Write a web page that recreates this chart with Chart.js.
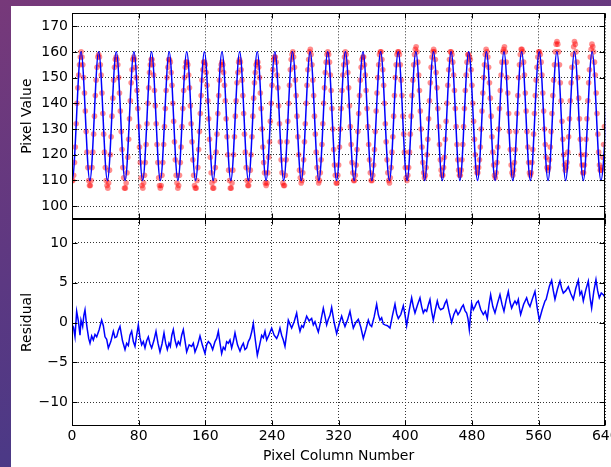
<!DOCTYPE html>
<html lang="en">
<head>
<meta charset="UTF-8">
<title>Pixel Value fit and residual</title>
<script src="https://cdn.jsdelivr.net/npm/chart.js@4"></script>
<style>
  html, body { margin: 0; padding: 0; width: 611px; height: 467px; overflow: hidden; }
  body { position: relative; background: linear-gradient(165deg, #77397a 0%, #5c3882 45%, #3c3a8a 100%); }
  .sheet { position: absolute; left: 11px; top: 6px; width: 600px; height: 461px; background: #fff; }
  canvas { position: absolute; left: 0; }
  #topChart { top: 0; width: 640px; height: 219px; }
  #bottomChart { top: 219px; width: 640px; height: 248px; }
</style>
</head>
<body>
<div class="sheet"></div>
<canvas id="topChart" width="640" height="219"></canvas>
<canvas id="bottomChart" width="640" height="248"></canvas>
<script>
const pixelValues = [
  110,110,112,117,123,132,140,146,151,155,158,160,158,155,150,144,137,129,121,115,110,108,
  108,110,115,121,128,135,143,149,154,158,159,158,155,151,144,136,128,121,115,110,108,
  107,109,114,120,127,135,142,149,154,157,158,157,155,150,144,137,129,122,115,111,107,
  107,109,113,119,126,134,141,148,153,157,158,157,154,150,145,138,131,123,117,111,108,
  107,109,112,117,124,132,140,146,152,155,157,157,155,151,145,139,132,124,117,111,108,
  107,108,112,117,124,131,138,145,150,154,157,157,156,152,147,140,133,125,118,112,109,107,
  108,112,117,123,131,138,145,150,154,156,156,155,151,146,139,132,125,118,112,108,107,
  107,110,115,122,129,136,143,149,153,156,156,155,152,147,141,134,126,119,113,109,107,
  107,110,115,121,128,136,143,149,153,155,156,155,152,147,141,134,127,120,114,110,107,
  107,109,114,120,127,135,141,148,152,156,157,156,153,149,143,136,128,121,115,110,108,
  108,110,114,120,127,135,142,148,152,155,156,156,154,150,144,138,130,123,117,113,109,
  108,109,113,119,125,133,140,147,153,157,158,158,156,151,146,139,132,125,118,113,109,108,
  108,112,118,125,133,140,147,153,157,159,160,158,154,149,143,135,127,120,114,111,109,
  110,113,118,125,132,140,147,153,157,160,161,159,155,149,143,135,128,121,115,111,109,
  110,113,118,124,132,140,146,152,156,159,160,159,156,151,145,138,130,122,116,112,109,
  109,112,116,123,130,138,145,151,155,158,160,159,156,152,146,139,131,124,117,113,110,
  110,112,116,122,129,136,143,149,154,157,158,158,155,151,145,138,131,124,118,113,110,
  110,112,116,122,129,137,144,150,155,159,160,160,157,153,147,140,132,125,118,113,110,
  109,111,115,121,127,135,143,150,155,159,160,160,159,155,149,143,135,128,121,115,111,110,
  112,115,121,128,135,143,149,155,159,161,162,160,156,151,145,137,130,123,117,113,111,
  112,115,120,126,134,141,148,154,158,160,161,160,157,152,146,138,131,124,118,114,112,
  112,115,119,126,133,140,147,153,157,160,160,159,156,151,145,138,131,124,118,114,112,
  112,114,118,124,131,138,145,151,156,159,159,158,157,153,147,140,133,126,120,115,113,
  113,115,118,123,130,137,144,150,155,159,161,160,158,154,148,142,135,127,121,116,112,
  111,113,117,123,130,138,145,151,156,160,161,162,160,156,150,144,136,129,122,116,113,
  112,114,117,122,129,136,143,150,155,159,161,161,160,156,151,144,137,129,123,117,113,112,
  113,117,122,128,136,143,149,154,158,160,160,159,156,151,144,137,130,124,119,115,114,
  115,118,123,129,136,143,149,155,160,163,164,163,160,155,148,141,133,126,120,116,114,
  115,117,121,127,134,141,148,154,159,162,164,163,160,156,150,142,134,126,120,116,113,
  113,116,120,126,134,141,148,153,158,161,163,162,160,156,151,144,136,128,121,116,114,
  114,115,119,124,131
];

// fitted curve: its turning points (peaks 160, troughs 110)
const fitX = [
  -10.4, 0.2, 10.8, 21.4, 32.0, 42.5, 53.1, 63.7, 74.3, 84.8, 95.4, 106.0, 116.6, 127.1,
  137.7, 148.3, 158.9, 169.4, 180.0, 190.6, 201.2, 211.7, 222.3, 232.9, 243.5, 254.0,
  264.6, 275.2, 285.8, 296.3, 306.9, 317.5, 328.1, 338.6, 349.2, 359.8, 370.4, 380.9,
  391.5, 402.1, 412.7, 423.2, 433.8, 444.4, 455.0, 465.5, 476.1, 486.7, 497.3, 507.8,
  518.4, 529.0, 539.6, 550.1, 560.7, 571.3, 581.9, 592.4, 603.0, 613.6, 624.2, 634.7, 645.3
];
const fitY = [
  160,110,160,110,160,110,160,110,160,110,160,110,160,110,160,110,
  160,110,160,110,160,110,160,110,160,110,160,110,160,110,160,110,
  160,110,160,110,160,110,160,110,160,110,160,110,160,110,160,110,
  160,110,160,110,160,110,160,110,160,110,160,110,160,110,160
];

// residual (data - fit), wiggles
const residX = [
  0, 1.8, 3.6, 5.6, 7.6, 9.6, 10.8, 12.8, 14.2, 15.6, 17.0, 18.4, 20.0, 21.6, 23.6, 25.6,
  27.6, 29.6, 32.6, 35.6, 37.6, 39.6, 41.6, 43.6, 46.6, 49.6, 51.6, 53.6, 55.6, 57.6, 60.6,
  63.6, 65.6, 67.6, 69.6, 71.6, 73.6, 75.6, 77.6, 79.6, 81.6, 83.6, 85.6, 87.6, 89.6, 91.6,
  93.6, 95.6, 98.2, 100.8, 103.2, 105.6, 108.0, 110.4, 112.4, 114.4, 116.4, 118.0, 119.8,
  121.6, 123.6, 125.6, 127.6, 129.6, 131.6, 133.6, 135.6, 137.6, 140.6, 143.6, 145.6, 147.6,
  150.6, 153.6, 156.6, 159.6, 161.6, 163.6, 166.2, 168.8, 171.6, 173.6, 175.6, 177.6, 179.6,
  181.6, 183.6, 185.6, 187.6, 189.6, 191.6, 193.6, 195.6, 198.6, 201.6, 203.6, 205.6, 207.6,
  209.6, 211.6, 213.6, 215.6, 217.6, 220.0, 222.4, 225.0, 227.6, 229.6, 231.6, 233.6, 236.6,
  239.6, 242.6, 245.6, 247.6, 249.6, 251.6, 253.6, 255.6, 257.6, 259.6, 261.6, 263.6, 266.6,
  269.6, 271.6, 273.6, 275.6, 277.6, 279.6, 281.6, 284.6, 287.6, 289.6, 291.6, 293.6, 295.6,
  298.6, 301.6, 303.6, 305.6, 307.6, 309.6, 311.6, 314.6, 317.6, 320.6, 323.6, 325.6, 327.6,
  330.6, 333.6, 335.6, 337.6, 340.6, 343.6, 346.6, 349.6, 352.6, 355.6, 357.6, 359.6, 362.6,
  365.6, 367.6, 369.6, 371.6, 373.6, 375.6, 378.6, 381.6, 384.6, 387.6, 389.6, 391.6, 394.6,
  397.6, 399.6, 401.6, 404.6, 407.6, 409.6, 411.6, 414.6, 417.6, 419.6, 421.6, 423.6, 425.6,
  427.6, 429.6, 431.6, 433.6, 436.0, 438.4, 440.4, 442.4, 445.6, 447.6, 449.6, 452.6, 455.6,
  458.2, 460.8, 463.2, 465.6, 467.6, 469.6, 471.6, 473.6, 475.2, 476.8, 478.2, 479.6, 481.6,
  483.6, 485.6, 487.6, 490.6, 493.6, 496.0, 498.4, 500.4, 502.4, 505.0, 507.6, 510.6, 513.6,
  516.0, 518.4, 521.0, 523.6, 525.6, 527.6, 529.6, 531.6, 533.6, 535.6, 537.0, 538.4, 542.0,
  545.6, 547.6, 549.6, 552.6, 555.6, 558.2, 560.8, 564.2, 567.6, 569.0, 570.4, 573.0, 575.6,
  577.6, 579.6, 582.6, 585.6, 587.6, 589.6, 592.6, 595.6, 598.6, 601.6, 604.6, 607.6, 609.6,
  611.6, 613.6, 616.6, 619.6, 621.6, 623.6, 626.2, 628.8, 630.8, 632.8, 635.2, 637.6, 640
];
const residY = [
  -0.3, -0.6, -1.8, 1.4, 0.2, -1.6, 0.3, -0.5, 0.9, 1.6, 0.2, -0.9, -2.0, -2.6, -1.7, -2.2,
  -1.5, -1.8, -0.9, 0.3, -0.4, -1.8, -2.1, -3.2, -2.4, -1.1, -1.9, -1.8, -1.0, -0.5, -2.3,
  -3.4, -2.6, -2.9, -1.6, -1.1, -2.4, -3.0, -1.6, -0.3, -1.9, -2.8, -2.4, -3.2, -2.3, -1.8,
  -2.7, -3.2, -2.3, -1.1, -2.6, -3.7, -2.7, -1.3, -2.6, -3.4, -2.6, -3.0, -1.6,
  -0.9, -2.2, -3.0, -2.4, -2.8, -1.6, -0.9, -2.3, -3.7, -2.8, -3.0, -2.6, -3.7,
  -2.9, -1.7, -2.9, -3.9, -2.8, -2.4, -2.7, -3.4, -2.4, -2.0, -1.1, -2.6, -3.9,
  -3.1, -3.4, -2.4, -2.6, -2.2, -3.2, -2.4, -1.3, -2.8, -3.6, -3.0, -2.6, -3.4,
  -3.2, -2.4, -2.0, -1.2, -0.1, -2.2, -4.1, -2.9, -1.6, -1.9, -1.1, -2.2, -1.5,
  -0.7, -1.6, -2.0, -1.5, -0.7, -1.6, -2.2, -3.0, -1.4, 0.3, -0.2, -0.7, 0.1,
  1.2, -0.2, -1.1, -0.4, -0.6, 0.1, 0.8, 0.2, 0.5, -0.3, 0.1, -0.6, -1.2,
  0.2, 1.8, 0.8, -0.3, 0.4, 0.9, 1.9, 0.0, -1.4, -0.2, 0.8, 0.1, -0.5,
  0.3, 1.4, 0.3, -0.7, 0.0, 0.4, -0.6, -2.0, -0.9, 0.3, -0.3, -0.5, 0.7,
  2.3, 1.0, 0.3, 0.6, -0.2, -0.3, -0.4, -0.7, 0.9, 2.3, 1.1, 0.5, 1.0,
  2.1, 1.0, -0.4, 1.5, 3.1, 2.0, 1.2, 2.2, 3.1, 2.0, 1.2, 1.6, 1.4,
  2.2, 2.9, 1.4, 0.3, 1.6, 2.7, 1.9, 1.6, 1.8, 2.4, 2.8, 1.3, 0.0,
  1.0, 1.6, 1.0, 1.4, 1.9, 2.2, 1.5, 1.2, 0.5, -0.9, 0.8, 2.4, 1.6,
  2.0, 2.5, 2.7, 1.6, 1.0, 1.4, 0.5, 2.2, 3.5, 2.0, 1.2, 2.4, 3.5,
  2.3, 1.4, 2.8, 3.9, 2.6, 1.8, 2.3, 2.7, 2.3, 2.9, 1.8, 1.0, 2.3,
  3.1, 2.4, 2.0, 3.0, 3.9, 1.9, 0.3, 1.6, 2.7, 2.9, 3.5, 4.6, 5.3,
  4.0, 2.9, 4.2, 5.2, 4.3, 3.7, 4.0, 4.5, 3.6, 2.9, 4.3, 5.3, 3.5,
  3.9, 2.7, 4.1, 5.2, 3.2, 1.8, 3.9, 5.4, 4.0, 3.1, 3.7, 3.5, 3.1
];

const columnTicks = [0, 80, 160, 240, 320, 400, 480, 560, 640];
const valueTicks = [100, 110, 120, 130, 140, 150, 160, 170];
const residTicks = [-10, -5, 0, 5, 10];

Chart.defaults.font.family = "'DejaVu Sans', sans-serif";
Chart.defaults.font.size = 14;
Chart.defaults.color = '#000';

const BLUE = '#0000ff';
const DOT = 'rgba(255, 0, 0, 0.45)';

// matplotlib-like frame with inward ticks on all four sides
const framePlugin = {
  id: 'frame',
  afterDatasetsDraw(chart) {
    const { ctx, chartArea: a, scales } = chart;
    const l = Math.round(a.left) + 0.5, r = Math.round(a.right) - 0.5;
    const t = Math.round(a.top) + 0.5, b = Math.round(a.bottom) - 0.5;
    ctx.save();
    ctx.strokeStyle = '#000';
    ctx.lineWidth = 1;
    ctx.setLineDash([]);
    ctx.beginPath();
    scales.x.ticks.forEach(tk => {
      const px = Math.round(scales.x.getPixelForValue(tk.value)) + 0.5;
      ctx.moveTo(px, t); ctx.lineTo(px, t + 5);
      ctx.moveTo(px, b); ctx.lineTo(px, b - 5);
    });
    scales.y.ticks.forEach(tk => {
      const py = Math.round(scales.y.getPixelForValue(tk.value)) + 0.5;
      ctx.moveTo(l, py); ctx.lineTo(l + 5, py);
      ctx.moveTo(r, py); ctx.lineTo(r - 5, py);
    });
    ctx.stroke();
    ctx.strokeRect(l, t, r - l, b - t);
    ctx.restore();
  }
};

const useTicks = list => s => { s.ticks = list.map(v => ({ value: v })); };
const grid = { color: '#333', lineWidth: 1, drawTicks: false };
const border = { display: false, dash: [1, 2] };

function xAxis(showLabels, height) {
  return {
    type: 'linear', min: 0, max: 640,
    afterBuildTicks: useTicks(columnTicks),
    grid, border,
    ticks: { display: showLabels, padding: 2, maxRotation: 0, autoSkip: false },
    title: { display: showLabels, text: 'Pixel Column Number', padding: { top: 0, bottom: 2 } },
    afterFit: s => { s.height = height; s.paddingLeft = 0; s.paddingRight = 0; }
  };
}

function yAxis(min, max, list, label, fmt) {
  return {
    min, max,
    afterBuildTicks: useTicks(list),
    grid, border,
    ticks: { padding: 4, autoSkip: false, callback: fmt },
    title: { display: true, text: label, padding: { top: 8, bottom: 0 } },
    afterFit: s => { s.width = 61; s.paddingTop = 0; s.paddingBottom = 0; }
  };
}

const common = {
  responsive: false,
  animation: false,
  events: [],
  plugins: { legend: { display: false }, tooltip: { enabled: false } }
};

new Chart(document.getElementById('topChart'), {
  type: 'line',
  data: {
    datasets: [
      {
        data: fitX.map((x, i) => ({ x, y: fitY[i] })),
        borderColor: BLUE, borderWidth: 1.5,
        cubicInterpolationMode: 'monotone',
        pointRadius: 0
      },
      {
        data: pixelValues.map((y, x) => ({ x, y })),
        showLine: false,
        pointRadius: 2.8, pointBorderWidth: 0,
        pointBackgroundColor: DOT
      }
    ]
  },
  options: Object.assign({}, common, {
    layout: { autoPadding: false, padding: { left: 11, top: 13.3, right: 34.7, bottom: 0 } },
    scales: {
      x: xAxis(false, 0),
      y: yAxis(95, 175, valueTicks, 'Pixel Value', v => String(v))
    }
  }),
  plugins: [framePlugin]
});

new Chart(document.getElementById('bottomChart'), {
  type: 'line',
  data: {
    datasets: [{
      data: residX.map((x, i) => ({ x, y: residY[i] })),
      borderColor: BLUE, borderWidth: 1.5,
      tension: 0, pointRadius: 0
    }]
  },
  options: Object.assign({}, common, {
    layout: { autoPadding: false, padding: { left: 11, top: 0, right: 34.7, bottom: 0 } },
    scales: {
      x: xAxis(true, 41),
      y: yAxis(-13, 13, residTicks, 'Residual', v => String(v).replace('-', '\u2212'))
    }
  }),
  plugins: [framePlugin]
});
</script>
</body>
</html>
